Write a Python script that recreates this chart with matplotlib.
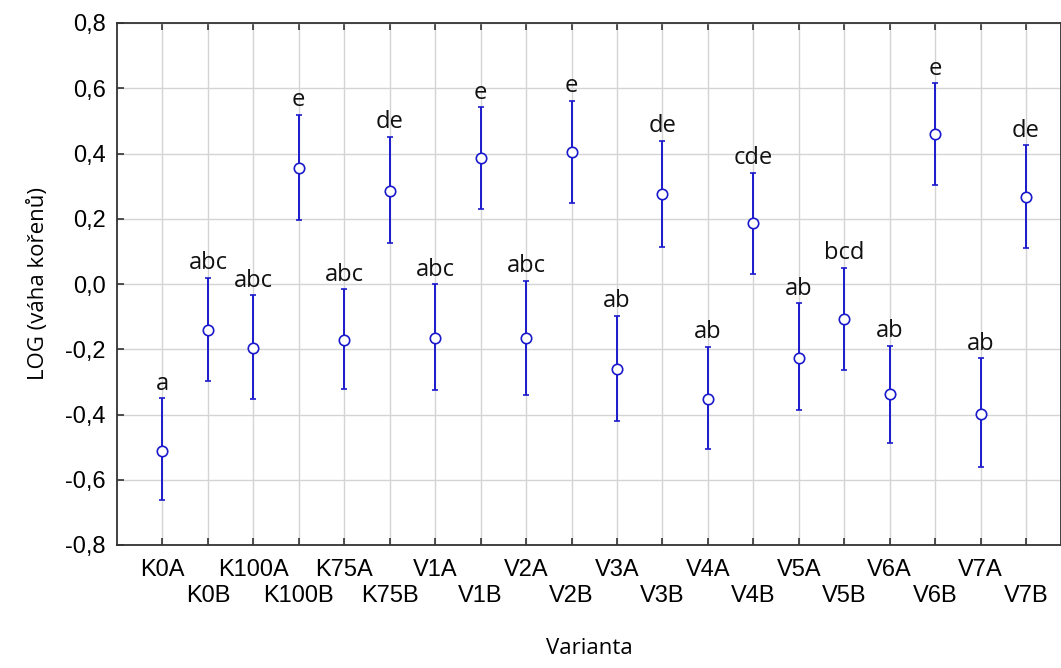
import matplotlib.pyplot as plt
import numpy as np
from matplotlib.ticker import FuncFormatter

# data
varianty = ['K0A', 'K0B', 'K100A', 'K100B', 'K75A', 'K75B', 'V1A', 'V1B', 'V2A', 'V2B',
            'V3A', 'V3B', 'V4A', 'V4B', 'V5A', 'V5B', 'V6A', 'V6B', 'V7A', 'V7B']
prumer = [-0.512, -0.141, -0.195, 0.355, -0.172, 0.286, -0.164, 0.386, -0.164, 0.404,
          -0.261, 0.275, -0.354, 0.186, -0.226, -0.107, -0.338, 0.459, -0.399, 0.267]
dolni = [-0.663, -0.297, -0.352, 0.195, -0.321, 0.127, -0.325, 0.230, -0.340, 0.249,
         -0.420, 0.114, -0.506, 0.030, -0.386, -0.264, -0.486, 0.303, -0.562, 0.111]
horni = [-0.350, 0.019, -0.035, 0.518, -0.016, 0.451, -0.001, 0.542, 0.010, 0.562,
         -0.097, 0.438, -0.192, 0.341, -0.059, 0.050, -0.189, 0.615, -0.228, 0.425]
skupiny = ['a', 'abc', 'abc', 'e', 'abc', 'de', 'abc', 'e', 'abc', 'e',
           'ab', 'de', 'ab', 'cde', 'ab', 'bcd', 'ab', 'e', 'ab', 'de']
y_ticks = [-0.8, -0.6, -0.4, -0.2, 0.0, 0.2, 0.4, 0.6, 0.8]

x = np.arange(len(varianty))
prumer = np.array(prumer)
yerr = [prumer - np.array(dolni), np.array(horni) - prumer]

fig = plt.figure(figsize=(10.61, 6.68), dpi=100)
ax = fig.add_axes([117 / 1061, 1 - 545 / 668, (1061 - 117) / 1061, (545 - 23) / 668])

ax.errorbar(x, prumer, yerr=yerr, fmt='o', color='#1a1acc', ecolor='#1a1acc',
            elinewidth=1.4, capsize=2.5, capthick=1.4, ms=7.5, mfc='white', mew=1.2, zorder=3)

for xi, top, lab in zip(x, horni, skupiny):
    ax.text(xi, top + 0.008, lab, ha='center', va='bottom', fontsize=17,
            family='Open Sans', color='#111111')

ax.set_xlim(-1, 19.77)
ax.set_ylim(-0.8, 0.8)
ax.set_yticks(y_ticks)
ax.yaxis.set_major_formatter(FuncFormatter(lambda v, p: f'{v:.1f}'.replace('.', ',').replace('-0,0', '0,0')))

# A varianty in the first row (major ticks), B varianty in the second row (minor ticks)
ax.set_xticks(x[0::2])
ax.set_xticklabels(varianty[0::2], family='Liberation Sans', fontsize=17)
ax.set_xticks(x[1::2], minor=True)
ax.set_xticklabels(varianty[1::2], minor=True, family='Liberation Sans', fontsize=17)
for t in ax.get_yticklabels():
    t.set_family('Liberation Sans')
    t.set_fontsize(17)

ax.tick_params(which='both', direction='in', length=5, width=1.2, color='#333333', top=True)
ax.tick_params(axis='x', which='major', pad=10)
ax.tick_params(axis='x', which='minor', pad=29)
ax.tick_params(axis='y', pad=8)
ax.grid(True, which='both', axis='x', color='#d4d4d4', lw=1)
ax.grid(True, axis='y', color='#d4d4d4', lw=1)
ax.set_axisbelow(True)
for s in ax.spines.values():
    s.set_color('#333333')
    s.set_linewidth(1.3)

ax.set_xlabel('Varianta', family='Open Sans', fontsize=16, labelpad=22)
ax.set_ylabel('LOG (váha kořenů)', family='Open Sans', fontsize=16, labelpad=12)

fig.savefig('out.png', dpi=100)
